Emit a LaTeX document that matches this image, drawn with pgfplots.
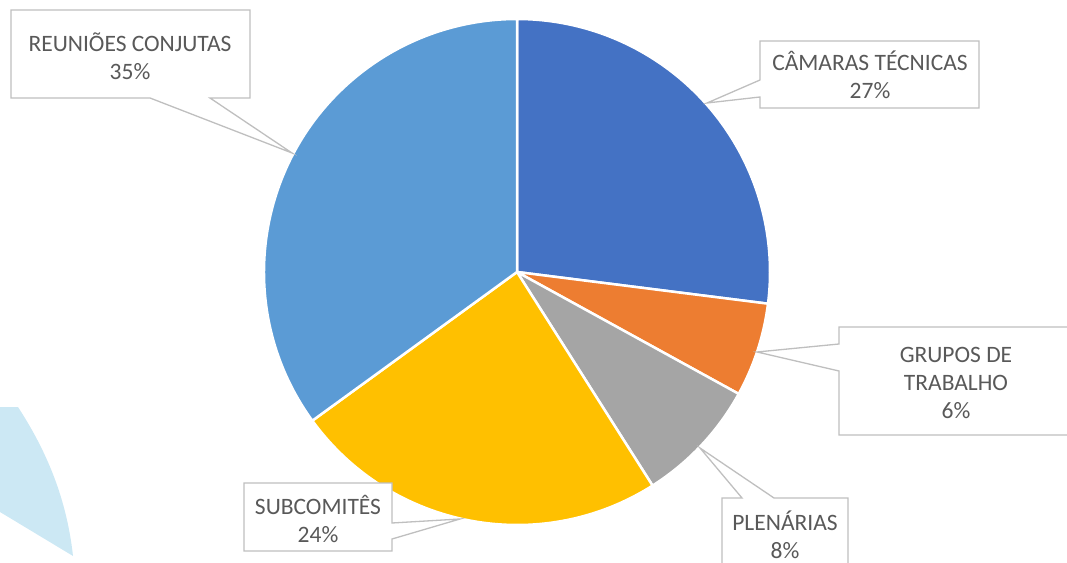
\documentclass[border=0pt]{standalone}
\usepackage{pgfplots}
\pgfplotsset{compat=1.18}
\usepackage{pgfplotstable}
\usepackage{fontspec}
\setmainfont{Carlito}
\definecolor{cBlue}{HTML}{4472C4}
\definecolor{cOrange}{HTML}{ED7D31}
\definecolor{cGray}{HTML}{A5A5A5}
\definecolor{cGold}{HTML}{FFC000}
\definecolor{cLight}{HTML}{5B9BD5}
\definecolor{txt}{HTML}{595959}
\definecolor{boxline}{HTML}{BFBFBF}
\definecolor{deco}{HTML}{CCE8F4}
\pgfplotstableread{
name value
Camaras 27
Grupos 6
Plenarias 8
Subcomites 24
Reunioes 35
}\piedata
\newcommand\pieslice[2]{\fill[#2, draw=white, line width=2.5pt, line join=round] (axis cs:517,290) -- ++(\csname aS#1\endcsname:253pt) arc[start angle=\csname aS#1\endcsname, end angle=\csname aE#1\endcsname, radius=253pt] -- cycle;}
\begin{document}
\begin{tikzpicture}
\def\angacc{90}
\pgfplotsforeachungrouped \i in {0,...,4}{%
  \pgfplotstablegetelem{\i}{value}\of\piedata
  \pgfmathsetmacro\angnext{\angacc-3.6*\pgfplotsretval}%
  \expandafter\xdef\csname aS\i\endcsname{\angacc}%
  \expandafter\xdef\csname aE\i\endcsname{\angnext}%
  \xdef\angacc{\angnext}%
}
\useasboundingbox (0,0) rectangle (1067pt,562pt);
\clip (0,0) rectangle (1067pt,562pt);
\begin{axis}[at={(0,0)}, anchor=south west, scale only axis, width=1067pt, height=562pt,
  xmin=0, xmax=1067, ymin=0, ymax=562, hide axis, clip=false]
% decorative background shape
\fill[deco] (axis cs:0,155) -- (axis cs:18,155) .. controls (axis cs:42,118) and (axis cs:66,70) .. (axis cs:73,6) -- (axis cs:0,50) -- cycle;
% pie
\pieslice{0}{cBlue}
\pieslice{1}{cOrange}
\pieslice{2}{cGray}
\pieslice{3}{cGold}
\pieslice{4}{cLight}
% callouts
\tikzset{callout/.style={draw=boxline, fill=white, line width=1.3pt, line join=miter}}
\tikzset{lab/.style={text=txt, align=center, font=\fontsize{23.5}{28}\selectfont}}
% Reunioes
\filldraw[callout] (axis cs:11,552) -- (axis cs:250,552) -- (axis cs:250,464) -- (axis cs:210,464) -- (axis cs:292,409) -- (axis cs:150,464) -- (axis cs:11,464) -- cycle;
\node[lab] at (axis cs:130,506) {REUNIÕES CONJUTAS\\35\%};
% Camaras
\filldraw[callout] (axis cs:760,521) -- (axis cs:979,521) -- (axis cs:979,454) -- (axis cs:760,454) -- (axis cs:760,465) -- (axis cs:707,459) -- (axis cs:760,482) -- cycle;
\node[lab] at (axis cs:870,487) {CÂMARAS TÉCNICAS\\27\%};
% Grupos
\filldraw[callout] (axis cs:839,235) -- (axis cs:1100,235) -- (axis cs:1100,127) -- (axis cs:839,127) -- (axis cs:839,191) -- (axis cs:757,210) -- (axis cs:839,218) -- cycle;
\node[lab] at (axis cs:956,179) {GRUPOS DE\\TRABALHO\\6\%};
% Subcomites
\filldraw[callout] (axis cs:244,79) -- (axis cs:392,79) -- (axis cs:392,39) -- (axis cs:460,43) -- (axis cs:392,23) -- (axis cs:392,11) -- (axis cs:244,11) -- cycle;
\node[lab] at (axis cs:318,43) {SUBCOMITÊS\\24\%};
% Plenarias
\filldraw[callout] (axis cs:722,64) -- (axis cs:742,64) -- (axis cs:700,114) -- (axis cs:774,64) -- (axis cs:848,64) -- (axis cs:848,-20) -- (axis cs:722,-20) -- cycle;
\node[lab] at (axis cs:785,27) {PLENÁRIAS\\8\%};
\end{axis}
\end{tikzpicture}
\end{document}
